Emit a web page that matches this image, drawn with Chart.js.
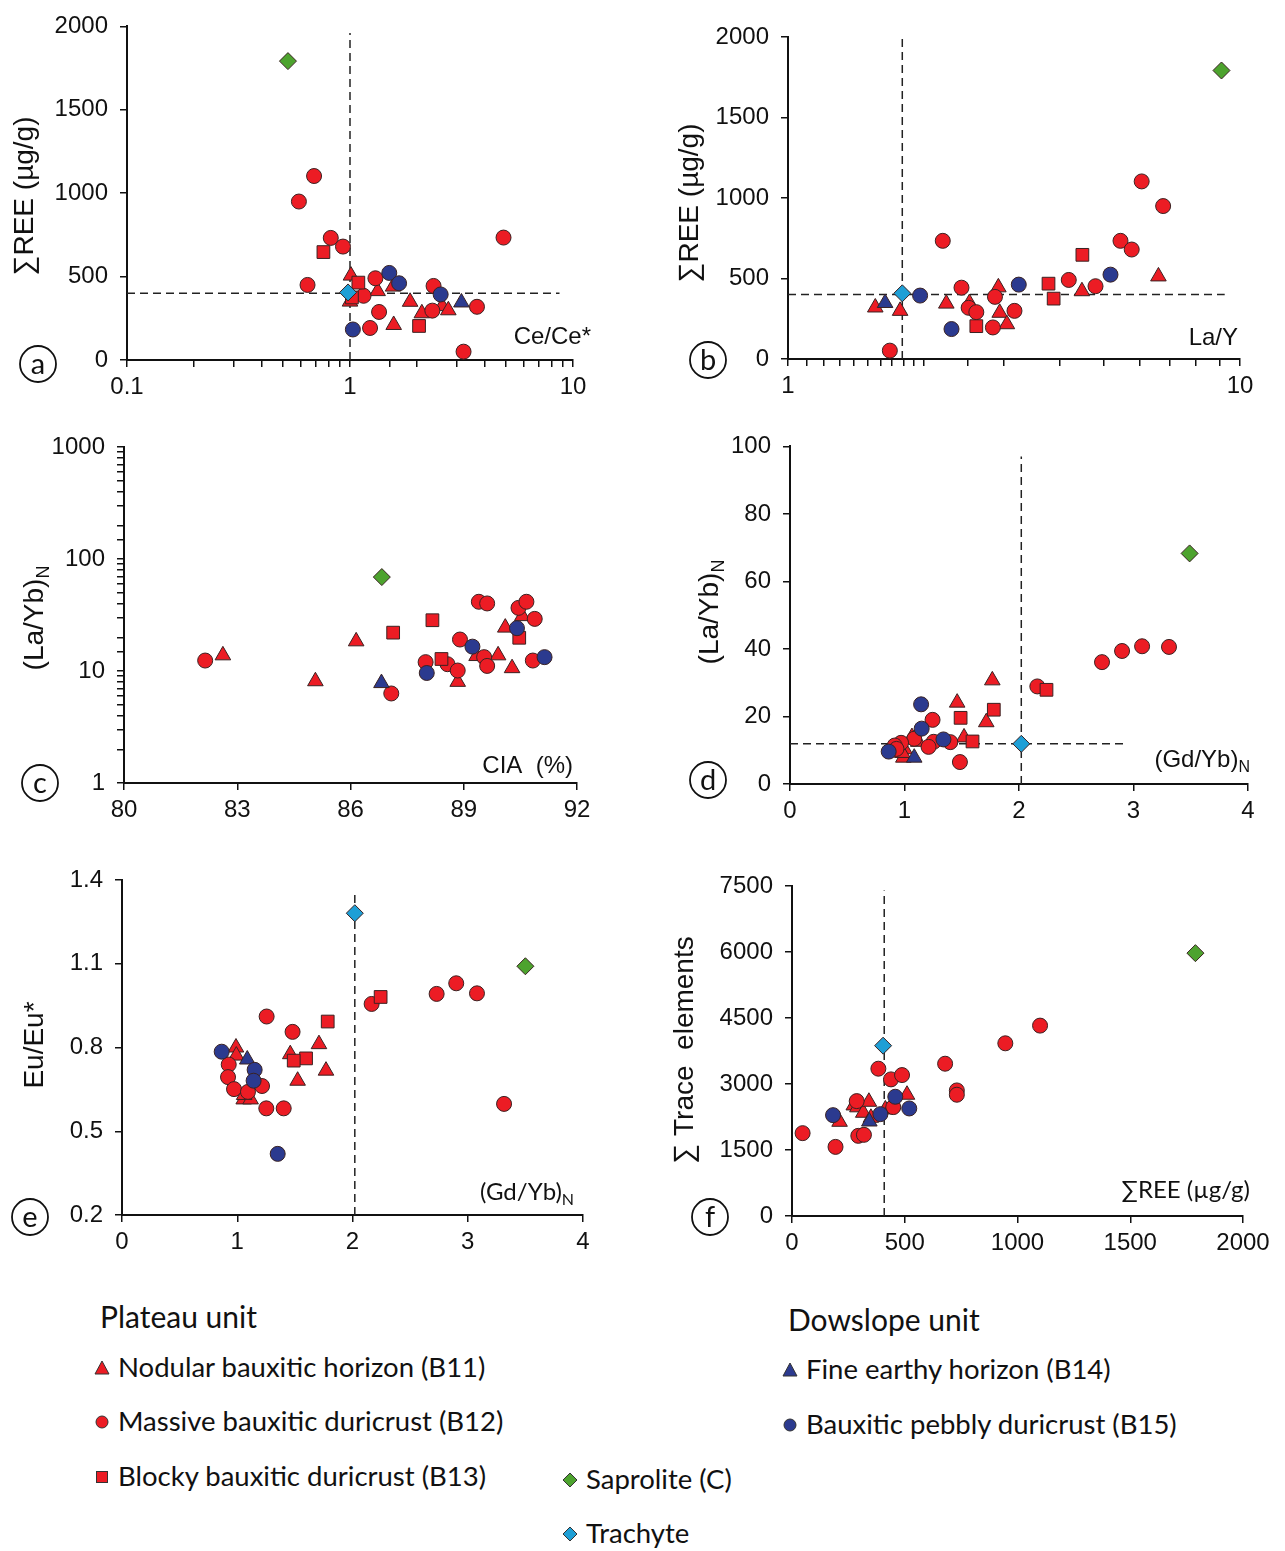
<!DOCTYPE html>
<html>
<head>
<meta charset="utf-8">
<script src="https://cdn.jsdelivr.net/npm/chart.js@4.4.1/dist/chart.umd.min.js"></script>
<style>
  body { margin: 0; background: #fff; width: 1285px; height: 1551px; position: relative; overflow: hidden; }
  canvas { position: absolute; }
  .head, .item { position: absolute; font-family: Lato, "Open Sans", sans-serif; color: #111; white-space: nowrap; line-height: 34px; }
  .head { font-size: 30px; }
  .item { font-size: 27.5px; }
  .item svg { position: absolute; left: -25px; top: 9px; }
</style>
</head>
<body>
<canvas id="pa"></canvas>
<canvas id="pb"></canvas>
<canvas id="pc"></canvas>
<canvas id="pd"></canvas>
<canvas id="pe"></canvas>
<canvas id="pf"></canvas>

<div class="head" style="left:100px;top:1299px">Plateau unit</div>
<div class="item" style="left:118px;top:1350px"><svg width="18" height="18"><polygon points="9,2 16,15 2,15" fill="#ec1c24" stroke="#333"/></svg>Nodular bauxitic horizon (B11)</div>
<div class="item" style="left:118px;top:1404px"><svg width="18" height="18"><circle cx="9" cy="9" r="6" fill="#ec1c24" stroke="#333"/></svg>Massive bauxitic duricrust (B12)</div>
<div class="item" style="left:118px;top:1459px"><svg width="18" height="18"><rect x="3.5" y="3.5" width="11" height="11" fill="#ec1c24" stroke="#333"/></svg>Blocky bauxitic duricrust (B13)</div>
<div class="item" style="left:586px;top:1462px"><svg width="18" height="18"><polygon points="9,2 16,9 9,16 2,9" fill="#4da32e" stroke="#333"/></svg>Saprolite (C)</div>
<div class="item" style="left:586px;top:1516px"><svg width="18" height="18"><polygon points="9,2 16,9 9,16 2,9" fill="#1e9fd6" stroke="#333"/></svg>Trachyte</div>
<div class="head" style="left:788px;top:1302px">Dowslope unit</div>
<div class="item" style="left:806px;top:1352px"><svg width="18" height="18"><polygon points="9,2 16,15 2,15" fill="#2b3a8f" stroke="#333"/></svg>Fine earthy horizon (B14)</div>
<div class="item" style="left:806px;top:1407px"><svg width="18" height="18"><circle cx="9" cy="9" r="6" fill="#2b3a8f" stroke="#333"/></svg>Bauxitic pebbly duricrust (B15)</div>

<script>
// ---- data ----
// (a) Ce/Ce* vs sum REE
const aB11x = [1.01, 1.00, 1.33, 1.56, 1.86, 2.10, 2.59, 2.76, 1.57];
const aB11y = [506, 350, 413, 440, 349, 280, 323, 298, 210];
const aB12x = [0.69, 0.59, 0.82, 0.93, 0.645, 1.30, 1.15, 1.35, 1.23, 2.37, 2.34, 3.71, 3.23, 4.88];
const aB12y = [1103, 950, 732, 680, 450, 490, 385, 288, 192, 444, 296, 319, 50, 734];
const aB13x = [0.76, 1.09, 1.02, 2.04];
const aB13y = [647, 464, 375, 204];
const aB14x = [3.16];
const aB14y = [345];
const aB15x = [1.50, 1.66, 2.55, 1.03];
const aB15y = [522, 460, 393, 183];
const aCx = [0.527], aCy = [1792];
const aTx = [0.98], aTy = [405];
const aDashV = [[1, 0], [1, 1960]];
const aDashH = [[0.1, 400], [8.7, 400]];

// (b) La/Y vs sum REE
const bB11x = [1.56, 1.77, 2.24, 2.52, 2.92, 2.94, 3.05, 4.47, 6.60];
const bB11y = [320, 299, 344, 348, 445, 287, 216, 421, 513];
const bB12x = [6.06, 6.76, 5.44, 5.76, 2.20, 2.42, 2.51, 2.61, 2.87, 2.84, 3.17, 4.18, 4.79, 1.68];
const bB12y = [1103, 950, 734, 680, 734, 443, 318, 291, 386, 196, 299, 491, 452, 52];
const bB13x = [4.48, 3.77, 3.87, 2.61];
const bB13y = [647, 468, 375, 204];
const bB14x = [1.64], bB14y = [348];
const bB15x = [1.96, 3.24, 5.17, 2.30];
const bB15y = [394, 462, 524, 186];
const bCx = [9.1], bCy = [1792];
const bTx = [1.79], bTy = [408];
const bDashV = [[1.79, 0], [1.79, 1990]];
const bDashH = [[1, 400], [9.25, 400]];

// (c) CIA vs (La/Yb)N
const cB11x = [82.62, 85.07, 86.15, 88.84, 89.34, 89.91, 90.10, 90.28, 90.55];
const cB11y = [13.8, 8.1, 18.4, 8.0, 13.6, 13.8, 24.4, 10.6, 30.9];
const cB12x = [82.15, 87.08, 87.99, 88.57, 88.84, 88.90, 89.40, 89.62, 89.54, 89.62, 90.45, 90.66, 90.88, 90.83];
const cB12y = [12.4, 6.3, 12.0, 11.5, 10.1, 19.1, 41.5, 40.1, 13.3, 11.1, 36.6, 41.5, 29.2, 12.4];
const cB13x = [87.13, 88.17, 88.41, 90.47];
const cB13y = [22.0, 28.4, 12.8, 19.8];
const cB14x = [86.82], cB14y = [7.8];
const cB15x = [88.02, 89.23, 90.41, 91.14];
const cB15y = [9.6, 16.5, 24.1, 13.3];
const cCx = [86.83], cCy = [69];

// (d) (Gd/Yb)N vs (La/Yb)N
const dB11x = [1.767, 1.46, 1.714, 1.52, 0.99, 1.00, 1.065, 1.12, 0.98];
const dB11y = [30.7, 24.1, 18.3, 13.8, 7.8, 10.3, 13.9, 12.5, 9.2];
const dB12x = [2.725, 2.90, 3.075, 3.31, 2.16, 1.245, 1.484, 1.40, 1.255, 1.21, 1.085, 0.97, 0.915, 0.93];
const dB12y = [36.1, 39.4, 40.8, 40.6, 28.9, 19.0, 6.5, 12.4, 12.5, 11.0, 13.4, 12.2, 11.4, 10.4];
const dB13x = [2.24, 1.78, 1.49, 1.594];
const dB13y = [27.9, 22.0, 19.6, 12.6];
const dB14x = [1.085], dB14y = [7.8];
const dB15x = [1.145, 1.15, 1.34, 0.862];
const dB15y = [23.6, 16.4, 13.2, 9.6];
const dCx = [3.49], dCy = [68.3];
const dTx = [2.02], dTy = [11.9];
const dDashV = [[2.02, 0], [2.02, 97]];
const dDashH = [[0, 11.9], [2.95, 11.9]];

// (e) (Gd/Yb)N vs Eu/Eu*
const eB11x = [0.989, 0.992, 1.46, 1.709, 1.77, 1.524, 1.056, 1.116, 1.06];
const eB11y = [0.800, 0.771, 0.776, 0.812, 0.717, 0.681, 0.614, 0.614, 0.63];
const eB12x = [2.90, 2.73, 3.08, 2.166, 1.255, 1.48, 0.926, 0.92, 0.972, 1.093, 1.215, 1.252, 1.403, 3.315];
const eB12y = [1.030, 0.992, 0.994, 0.956, 0.911, 0.856, 0.739, 0.694, 0.651, 0.641, 0.662, 0.582, 0.582, 0.598];
const eB13x = [2.244, 1.785, 1.597, 1.49];
const eB13y = [0.981, 0.893, 0.761, 0.753];
const eB14x = [1.087], eB14y = [0.757];
const eB15x = [0.865, 1.151, 1.142, 1.351];
const eB15y = [0.785, 0.720, 0.681, 0.419];
const eCx = [3.50], eCy = [1.091];
const eTx = [2.02], eTy = [1.281];
const eDashV = [[2.02, 0.2], [2.02, 1.36]];

// (f) sum REE vs sum trace elements
const fB11x = [211, 274, 290, 316, 341, 350, 414, 443, 510];
const fB11y = [2141, 2513, 2470, 2346, 2596, 2232, 2422, 2497, 2756];
const fB12x = [1100, 946, 679, 731, 731, 383, 439, 488, 47, 193, 294, 319, 287, 449];
const fB12y = [4327, 3925, 3461, 2854, 2756, 3348, 3105, 3203, 1883, 1571, 1822, 1845, 2611, 2475];
const fB14x = [343], fB14y = [2148];
const fB15x = [182, 392, 458, 520];
const fB15y = [2292, 2315, 2710, 2444];
const fCx = [1789], fCy = [5974];
const fTx = [404], fTy = [3871];
const fDashV = [[409, 0], [409, 7400]];

// tick values
const ticksA_Y = [0, 500, 1000, 1500, 2000];
const ticksD_X = [0, 1, 2, 3, 4];
const ticksD_Y = [0, 20, 40, 60, 80, 100];
const ticksC_X = [80, 83, 86, 89, 92];
const ticksE_Y = [0.2, 0.5, 0.8, 1.1, 1.4];
const ticksF_X = [0, 500, 1000, 1500, 2000];
const ticksF_Y = [0, 1500, 3000, 4500, 6000, 7500];

// ---- styling ----
const RED = '#ec1c24', BLUE = '#2b3a8f', GREEN = '#4da32e', CYAN = '#1e9fd6';
const NARROW = "'Liberation Sans Narrow','Arial Narrow','Liberation Sans',sans-serif";
const LATO = "Lato,'Open Sans',sans-serif";

function pts(xs, ys) { return xs.map((x, i) => ({ x: x, y: ys[i] })); }
function pair(arr) { return arr.map(p => ({ x: p[0], y: p[1] })); }

function group(xs, ys, style, color, r) {
  return { data: pts(xs, ys), pointStyle: style, pointRadius: r, pointHoverRadius: r,
    backgroundColor: color, borderColor: '#3a2222', borderWidth: 1, showLine: false };
}
function dash(arr) {
  return { data: pair(arr), showLine: true, pointRadius: 0, borderColor: '#222',
    borderWidth: 1.5, borderDash: [8, 5], fill: false };
}

function drawSub(ctx, main, sub, x, y, size, font, align) {
  ctx.font = size + 'px ' + font;
  const w1 = ctx.measureText(main).width;
  ctx.font = Math.round(size * 0.65) + 'px ' + font;
  const w2 = sub ? ctx.measureText(sub).width : 0;
  let x0 = align === 'right' ? x - w1 - w2 : x - (w1 + w2) / 2;
  ctx.textAlign = 'left';
  ctx.textBaseline = 'middle';
  ctx.font = size + 'px ' + font;
  ctx.fillText(main, x0, y);
  if (sub) {
    ctx.font = Math.round(size * 0.65) + 'px ' + font;
    ctx.fillText(sub, x0 + w1, y + size * 0.32);
  }
}

const panelText = {
  id: 'panelText',
  afterDraw(chart, args, o) {
    const ctx = chart.ctx;
    ctx.save();
    ctx.fillStyle = '#111';
    // y axis title, rotated
    ctx.save();
    ctx.translate(o.yt.x, o.yt.y);
    ctx.rotate(-Math.PI / 2);
    drawSub(ctx, o.yt.text, o.yt.sub, 0, 0, o.yt.size || 28, NARROW, 'center');
    ctx.restore();
    // label inside the plot, bottom right
    drawSub(ctx, o.xt.text, o.xt.sub, o.xt.x, o.xt.y, o.xt.size || 24, o.xt.font || NARROW, 'right');
    // circled panel letter
    ctx.beginPath();
    ctx.arc(o.lt.x, o.lt.y, 18, 0, Math.PI * 2);
    ctx.lineWidth = 1.8;
    ctx.strokeStyle = '#111';
    ctx.stroke();
    ctx.font = '29px ' + LATO;
    ctx.textAlign = 'center';
    ctx.textBaseline = 'middle';
    ctx.fillText(o.lt.ch, o.lt.x, o.lt.y + 1);
    ctx.restore();
  }
};

function axis(type, min, max, fit, isX, tickVals, logLabel) {
  const sc = {
    type: type, min: min, max: max, position: isX ? 'bottom' : 'left',
    border: { color: '#111', width: 2 },
    grid: { drawOnChartArea: false, drawTicks: true, tickLength: 7, color: '#111', lineWidth: 1.5 },
    ticks: { color: '#111', font: { family: NARROW, size: 24 }, padding: isX ? 6 : 12,
      autoSkip: false, maxRotation: 0 },
    afterFit(s) { if (isX) s.height = fit; else s.width = fit; }
  };
  if (tickVals) {
    sc.afterBuildTicks = s => { s.ticks = tickVals.map(v => ({ value: v })); };
    sc.ticks.callback = v => (Math.abs(v % 1) > 1e-9 ? v.toFixed(1) : String(v));
  }
  if (logLabel) {
    sc.ticks.callback = v => {
      const l = Math.log10(v);
      return Math.abs(l - Math.round(l)) < 1e-6 ? String(Number(v.toPrecision(3))) : '';
    };
  }
  return sc;
}

function panel(id, box, plot, xAxis, yAxis, sets, txt) {
  const cv = document.getElementById(id);
  cv.width = box.w; cv.height = box.h;
  cv.style.left = box.left + 'px'; cv.style.top = box.top + 'px';
  cv.style.width = box.w + 'px'; cv.style.height = box.h + 'px';
  const rel = p => ({ ...p, x: p.x - box.left, y: p.y - box.top });
  new Chart(cv, {
    type: 'scatter',
    data: { datasets: sets },
    options: {
      responsive: false, animation: false, devicePixelRatio: 1,
      layout: { padding: { top: plot.T - box.top, right: box.left + box.w - plot.R, left: 0, bottom: 0 } },
      scales: {
        x: axis(xAxis.type, xAxis.min, xAxis.max, box.top + box.h - plot.B, true, xAxis.ticks, xAxis.type === 'logarithmic'),
        y: axis(yAxis.type, yAxis.min, yAxis.max, plot.L - box.left, false, yAxis.ticks, yAxis.type === 'logarithmic')
      },
      plugins: {
        legend: { display: false }, tooltip: { enabled: false },
        panelText: { yt: rel(txt.yt), xt: rel(txt.xt), lt: rel(txt.lt) }
      }
    },
    plugins: [panelText]
  });
}

function groups(p) {
  const s = [];
  if (p.Tx) s.push(group(p.Tx, p.Ty, 'rectRot', CYAN, 8.5));
  if (p.Cx) s.push(group(p.Cx, p.Cy, 'rectRot', GREEN, 8.5));
  s.push(group(p.B15x, p.B15y, 'circle', BLUE, 7.5));
  s.push(group(p.B14x, p.B14y, 'triangle', BLUE, 9));
  if (p.B13x) s.push(group(p.B13x, p.B13y, 'rect', RED, 9));
  s.push(group(p.B12x, p.B12y, 'circle', RED, 7.5));
  s.push(group(p.B11x, p.B11y, 'triangle', RED, 9));
  (p.dashes || []).forEach(d => s.push(dash(d)));
  return s;
}

// (a)
panel('pa', { left: 0, top: 0, w: 640, h: 420 }, { L: 127, T: 24, R: 573, B: 360 },
  { type: 'logarithmic', min: 0.1, max: 10 }, { type: 'linear', min: 0, max: 2000, ticks: ticksA_Y },
  groups({ B11x: aB11x, B11y: aB11y, B12x: aB12x, B12y: aB12y, B13x: aB13x, B13y: aB13y, B14x: aB14x, B14y: aB14y,
    B15x: aB15x, B15y: aB15y, Cx: aCx, Cy: aCy, Tx: aTx, Ty: aTy, dashes: [aDashV, aDashH] }),
  { yt: { x: 25, y: 196, text: '\u2211REE (\u00b5g/g)' }, xt: { x: 591, y: 337, text: 'Ce/Ce*' }, lt: { x: 38, y: 364, ch: 'a' } });

// (b)
panel('pb', { left: 640, top: 0, w: 645, h: 420 }, { L: 788, T: 37, R: 1240, B: 359 },
  { type: 'logarithmic', min: 1, max: 10 }, { type: 'linear', min: 0, max: 2000, ticks: ticksA_Y },
  groups({ B11x: bB11x, B11y: bB11y, B12x: bB12x, B12y: bB12y, B13x: bB13x, B13y: bB13y, B14x: bB14x, B14y: bB14y,
    B15x: bB15x, B15y: bB15y, Cx: bCx, Cy: bCy, Tx: bTx, Ty: bTy, dashes: [bDashV, bDashH] }),
  { yt: { x: 690, y: 203, text: '\u2211REE (\u00b5g/g)' }, xt: { x: 1238, y: 338, text: 'La/Y' }, lt: { x: 708, y: 360, ch: 'b' } });

// (c)
panel('pc', { left: 0, top: 420, w: 640, h: 430 }, { L: 124, T: 447, R: 577, B: 783 },
  { type: 'linear', min: 80, max: 92, ticks: ticksC_X }, { type: 'logarithmic', min: 1, max: 1000 },
  groups({ B11x: cB11x, B11y: cB11y, B12x: cB12x, B12y: cB12y, B13x: cB13x, B13y: cB13y, B14x: cB14x, B14y: cB14y,
    B15x: cB15x, B15y: cB15y, Cx: cCx, Cy: cCy }),
  { yt: { x: 35, y: 618, text: '(La/Yb)', sub: 'N' }, xt: { x: 573, y: 766, text: 'CIA  (%)' }, lt: { x: 40, y: 783, ch: 'c' } });

// (d)
panel('pd', { left: 640, top: 420, w: 645, h: 430 }, { L: 790, T: 444, R: 1248, B: 784 },
  { type: 'linear', min: 0, max: 4, ticks: ticksD_X }, { type: 'linear', min: 0, max: 100, ticks: ticksD_Y },
  groups({ B11x: dB11x, B11y: dB11y, B12x: dB12x, B12y: dB12y, B13x: dB13x, B13y: dB13y, B14x: dB14x, B14y: dB14y,
    B15x: dB15x, B15y: dB15y, Cx: dCx, Cy: dCy, Tx: dTx, Ty: dTy, dashes: [dDashV, dDashH] }),
  { yt: { x: 710, y: 612, text: '(La/Yb)', sub: 'N' }, xt: { x: 1250, y: 760, text: '(Gd/Yb)', sub: 'N' }, lt: { x: 708, y: 780, ch: 'd' } });

// (e)
panel('pe', { left: 0, top: 850, w: 640, h: 420 }, { L: 122, T: 880, R: 583, B: 1215 },
  { type: 'linear', min: 0, max: 4, ticks: ticksD_X }, { type: 'linear', min: 0.2, max: 1.4, ticks: ticksE_Y },
  groups({ B11x: eB11x, B11y: eB11y, B12x: eB12x, B12y: eB12y, B13x: eB13x, B13y: eB13y, B14x: eB14x, B14y: eB14y,
    B15x: eB15x, B15y: eB15y, Cx: eCx, Cy: eCy, Tx: eTx, Ty: eTy, dashes: [eDashV] }),
  { yt: { x: 35, y: 1045, text: 'Eu/Eu*' }, xt: { x: 574, y: 1192, text: '(Gd/Yb)', sub: 'N', font: LATO }, lt: { x: 30, y: 1217, ch: 'e' } });

// (f)
panel('pf', { left: 640, top: 850, w: 645, h: 420 }, { L: 792, T: 886, R: 1243, B: 1216 },
  { type: 'linear', min: 0, max: 2000, ticks: ticksF_X }, { type: 'linear', min: 0, max: 7500, ticks: ticksF_Y },
  groups({ B11x: fB11x, B11y: fB11y, B12x: fB12x, B12y: fB12y, B14x: fB14x, B14y: fB14y,
    B15x: fB15x, B15y: fB15y, Cx: fCx, Cy: fCy, Tx: fTx, Ty: fTy, dashes: [fDashV] }),
  { yt: { x: 685, y: 1050, text: '\u2211 Trace  elements' }, xt: { x: 1250, y: 1190, text: '\u2211REE (\u00b5g/g)', font: LATO }, lt: { x: 710, y: 1217, ch: 'f' } });
</script>
</body>
</html>
